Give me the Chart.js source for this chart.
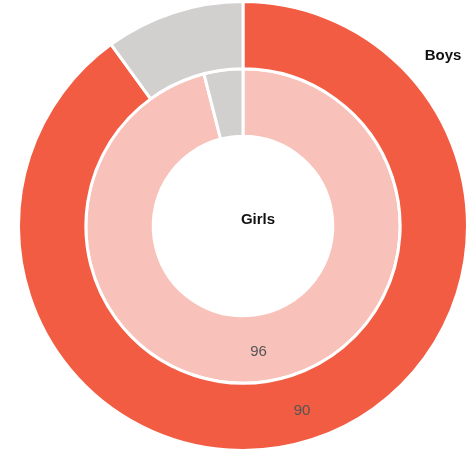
<!DOCTYPE html>
<html>
<head>
<meta charset="utf-8">
<script src="https://cdn.jsdelivr.net/npm/chart.js@4/dist/chart.umd.min.js"></script>
<style>
  html, body { margin: 0; padding: 0; background: #fff; }
  #wrap { width: 470px; height: 452px; position: relative; }
</style>
</head>
<body>
<div id="wrap"><canvas id="ringChart"></canvas></div>
<script>
// Data
const groups = ['Boys', 'Girls'];
const sliceLabels = ['Yes', 'No'];
const boysValues = [90, 10];
const girlsValues = [96, 4];

const boysColors = ['#f25c43', '#d2cfcf'];
const girlsColors = ['#f8c1b9', '#d2cfcf'];

// Draws the value on the first slice of each ring, plus the ring names
const ringLabels = {
    id: 'ringLabels',
    afterDatasetsDraw(chart) {
        const ctx = chart.ctx;
        ctx.save();
        ctx.textAlign = 'center';
        ctx.textBaseline = 'middle';

        chart.data.datasets.forEach((ds, i) => {
            const arc = chart.getDatasetMeta(i).data[0];
            const pos = arc.tooltipPosition();
            ctx.font = '15px "Liberation Sans", Arial, sans-serif';
            ctx.fillStyle = '#555';
            ctx.fillText(String(ds.data[0]), pos.x, pos.y + 3);
        });

        const area = chart.chartArea;
        const cx = (area.left + area.right) / 2;
        const cy = (area.top + area.bottom) / 2;
        ctx.font = 'bold 15px "Liberation Sans", Arial, sans-serif';
        ctx.fillStyle = '#111';
        ctx.fillText(groups[0], 443, 56);
        ctx.fillText(groups[1], cx + 15, cy - 6);
        ctx.restore();
    }
};

new Chart(document.getElementById('ringChart'), {
    type: 'doughnut',
    data: {
        labels: sliceLabels,
        datasets: [
            {
                label: groups[0],
                data: boysValues,
                backgroundColor: boysColors,
                borderColor: '#fff',
                borderWidth: 3
            },
            {
                label: groups[1],
                data: girlsValues,
                backgroundColor: girlsColors,
                borderColor: '#fff',
                borderWidth: 3
            }
        ]
    },
    options: {
        responsive: true,
        maintainAspectRatio: false,
        animation: false,
        cutout: '40%',
        layout: {
            padding: { left: 16, right: 0, top: 0, bottom: 0 }
        },
        plugins: {
            legend: { display: false },
            tooltip: { enabled: false }
        }
    },
    plugins: [ringLabels]
});
</script>
</body>
</html>
